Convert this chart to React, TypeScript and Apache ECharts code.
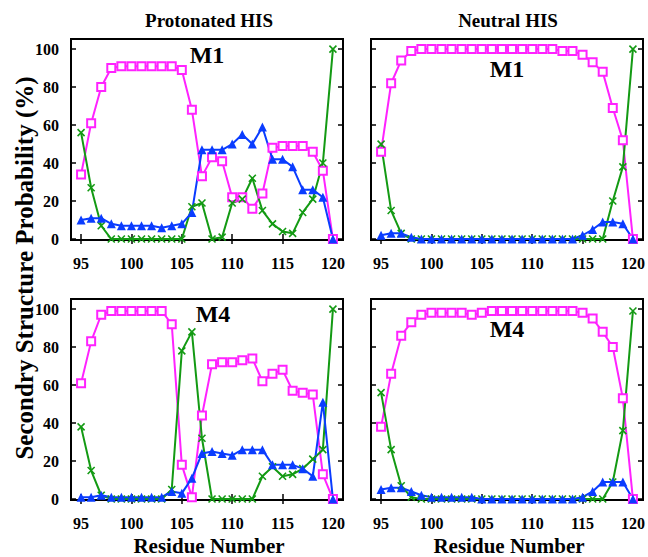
import React, { useEffect, useRef } from "react";
import * as echarts from "echarts";

const residues: number[] = [95, 96, 97, 98, 99, 100, 101, 102, 103, 104, 105, 106, 107, 108, 109, 110, 111, 112, 113, 114, 115, 116, 117, 118, 119, 120];
const xTicks: number[] = [95, 100, 105, 110, 115, 120];
const yTicks: number[] = [0, 20, 40, 60, 80, 100];

const columnTitles: string[] = ["Protonated HIS", "Neutral HIS"];
const panelLabels: string[] = ["M1", "M1", "M4", "M4"];

// Protonated HIS, M1
const protM1Magenta: number[] = [34, 61, 80, 90, 91, 91, 91, 91, 91, 91, 89, 68, 33, 43, 41, 22, 22, 16, 24, 48, 49, 49, 49, 46, 36, 0];
const protM1Green: number[] = [56, 27, 7, 0, 0, 0, 0, 0, 0, 0, 0, 17, 19, 0, 1, 19, 21, 32, 15, 8, 4, 3, 14, 21, 40, 100];
const protM1Blue: number[] = [10, 11, 11, 8, 7, 7, 7, 7, 6, 7, 8, 14, 47, 47, 47, 50, 55, 50, 59, 42, 42, 38, 26, 26, 22, 0];

// Neutral HIS, M1
const neutM1Magenta: number[] = [46, 82, 94, 99, 100, 100, 100, 100, 100, 100, 100, 100, 100, 100, 100, 100, 100, 100, 99, 99, 97, 93, 88, 69, 52, 0];
const neutM1Green: number[] = [50, 15, 3, 0, 0, 0, 0, 0, 0, 0, 0, 0, 0, 0, 0, 0, 0, 0, 0, 0, 0, 0, 0, 20, 38, 100];
const neutM1Blue: number[] = [2, 3, 3, 1, 0, 0, 0, 0, 0, 0, 0, 0, 0, 0, 0, 0, 0, 0, 0, 0, 2, 5, 9, 9, 8, 0];

// Protonated HIS, M4
const protM4Magenta: number[] = [61, 83, 97, 99, 99, 99, 99, 99, 99, 92, 18, 1, 44, 71, 72, 72, 73, 74, 62, 66, 68, 57, 56, 55, 13, 0];
const protM4Green: number[] = [38, 15, 2, 0, 0, 0, 0, 0, 0, 5, 78, 88, 32, 0, 0, 0, 0, 0, 12, 17, 12, 13, 16, 21, 26, 100];
const protM4Blue: number[] = [1, 1, 2, 1, 1, 1, 1, 1, 1, 4, 3, 11, 24, 25, 24, 23, 26, 26, 26, 18, 18, 18, 16, 12, 51, 0];

// Neutral HIS, M4
const neutM4Magenta: number[] = [38, 66, 86, 93, 97, 98, 98, 98, 98, 97, 98, 99, 99, 99, 99, 99, 99, 99, 99, 99, 98, 95, 88, 80, 53, 0];
const neutM4Green: number[] = [56, 26, 7, 1, 0, 0, 0, 0, 0, 0, 0, 0, 0, 0, 0, 0, 0, 0, 0, 0, 0, 0, 0, 9, 36, 99];
const neutM4Blue: number[] = [5, 6, 6, 4, 2, 1, 1, 1, 1, 1, 0, 0, 0, 0, 0, 0, 0, 0, 0, 0, 1, 4, 9, 9, 9, 0];

const panels: number[][][] = [
  [protM1Magenta, protM1Green, protM1Blue],
  [neutM1Magenta, neutM1Green, neutM1Blue],
  [protM4Magenta, protM4Green, protM4Blue],
  [neutM4Magenta, neutM4Green, neutM4Blue],
];

const FONT = "'Liberation Serif', 'Times New Roman', Times, serif";
const MAGENTA = "#ff22ff";
const GREEN = "#139a13";
const BLUE = "#0a3cff";

export default function App() {
  const ref = useRef<HTMLDivElement>(null);

  useEffect(() => {
    document.body.style.margin = "0";
    if (!ref.current) return;
    const chart = echarts.init(ref.current, null, { renderer: "svg" });

    const grids = [
      { left: 71, top: 39, width: 272, height: 201 },
      { left: 371, top: 39, width: 272, height: 201 },
      { left: 71, top: 299, width: 272, height: 201 },
      { left: 371, top: 299, width: 272, height: 201 },
    ].map((g) => ({ ...g, show: true, borderColor: "#000", borderWidth: 2, backgroundColor: "transparent" }));

    const tickStyle = { show: true, inside: true, length: 5, lineStyle: { color: "#000", width: 1.5 } };
    const labelStyle = { fontFamily: FONT, fontWeight: "bold" as const, fontSize: 16, color: "#000" };

    const xAxes: any[] = [];
    const yAxes: any[] = [];
    for (let i = 0; i < 4; i++) {
      const leftColumn = i % 2 === 0;
      xAxes.push({
        type: "value", gridIndex: i, min: 94, max: 121, position: "bottom",
        axisLine: { show: false }, splitLine: { show: false },
        axisTick: { ...tickStyle, customValues: xTicks },
        axisLabel: { ...labelStyle, customValues: xTicks, margin: 15 },
      });
      yAxes.push({
        type: "value", gridIndex: i, min: -0.5, max: 105.3, position: "left",
        axisLine: { show: false }, splitLine: { show: false },
        axisTick: { ...tickStyle, customValues: yTicks },
        axisLabel: { ...labelStyle, show: leftColumn, customValues: yTicks, margin: 12 },
      });
    }
    for (let i = 0; i < 4; i++) {
      xAxes.push({
        type: "value", gridIndex: i, min: 94, max: 121, position: "top",
        axisLine: { show: false }, splitLine: { show: false },
        axisTick: { ...tickStyle, customValues: xTicks },
        axisLabel: { show: false },
      });
      yAxes.push({
        type: "value", gridIndex: i, min: -0.5, max: 105.3, position: "right",
        axisLine: { show: false }, splitLine: { show: false },
        axisTick: { ...tickStyle, customValues: yTicks },
        axisLabel: { show: false },
      });
    }

    const series: any[] = [];
    panels.forEach((vals, p) => {
      const mk = (arr: number[]) => residues.map((r, k) => [r, arr[k]]);
      series.push({
        type: "line", xAxisIndex: p, yAxisIndex: p, data: mk(vals[0]), clip: false,
        symbol: "emptyRect", symbolSize: 8,
        lineStyle: { color: MAGENTA, width: 2 },
        itemStyle: { color: MAGENTA, borderColor: MAGENTA, borderWidth: 1.5 },
      });
      series.push({
        type: "line", xAxisIndex: p, yAxisIndex: p, data: mk(vals[1]), clip: false,
        symbol: "path://M0,0L10,10M10,0L0,10", symbolSize: 7,
        lineStyle: { color: GREEN, width: 2 },
        itemStyle: { color: GREEN, borderColor: GREEN, borderWidth: 1.6 },
      });
      series.push({
        type: "line", xAxisIndex: p, yAxisIndex: p, data: mk(vals[2]), clip: false,
        symbol: "triangle", symbolSize: 9,
        lineStyle: { color: BLUE, width: 2 },
        itemStyle: { color: BLUE },
      });
    });

    const txt = (x: number, y: number, text: string, size: number, extra: any = {}) => ({
      type: "text", x, y, ...extra,
      style: { text, fontFamily: FONT, fontWeight: "bold", fontSize: size, fill: "#000", align: "center", verticalAlign: "middle" },
    });

    const labelPos = [
      [207, 55], [507, 69], [213, 314], [507, 329],
    ];

    const graphic: any[] = [
      txt(209, 20, columnTitles[0], 19),
      txt(508, 20, columnTitles[1], 19),
      txt(209, 546, "Residue Number", 21),
      txt(509, 546, "Residue Number", 21),
      txt(24, 268, "Secondry Structure Probability (%)", 25, { rotation: Math.PI / 2 }),
      ...labelPos.map((pos, i) => txt(pos[0], pos[1], panelLabels[i], 24)),
    ];

    chart.setOption({
      animation: false,
      backgroundColor: "#fff",
      grid: grids,
      xAxis: xAxes,
      yAxis: yAxes,
      series,
      graphic,
    });

    return () => chart.dispose();
  }, []);

  return <div ref={ref} style={{ width: 648, height: 557 }} />;
}
